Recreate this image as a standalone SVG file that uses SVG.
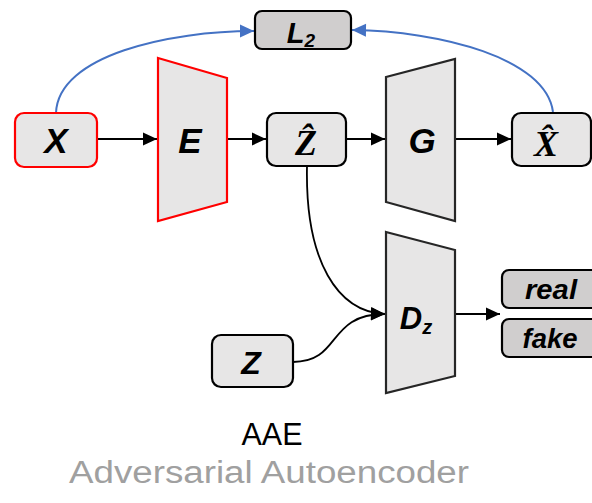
<svg xmlns="http://www.w3.org/2000/svg" width="592" height="503" viewBox="0 0 592 503">
<style>
.box{fill:#e7e6e6;stroke:#000;stroke-width:2.2}
.dbox{fill:#d0cece;stroke:#000;stroke-width:2.2}
.red{fill:#e7e6e6;stroke:#ff0000;stroke-width:2.2}
.trap{fill:#e7e6e6;stroke:#262626;stroke-width:2.2}
.lbl{font-family:"Liberation Sans",Arial,sans-serif;font-weight:bold;font-style:italic;text-anchor:middle;fill:#000}
.mth{font-family:"Liberation Serif","DejaVu Serif",serif;font-weight:bold;font-style:italic;text-anchor:middle;fill:#000}
.ln{fill:none;stroke:#000;stroke-width:1.8}
.bl{fill:none;stroke:#4472c4;stroke-width:2}
.cap{font-family:"Liberation Sans",Arial,sans-serif;font-size:31px;text-anchor:middle}
</style>
<defs>
<marker id="ah" markerUnits="userSpaceOnUse" markerWidth="16" markerHeight="16" viewBox="0 0 16 16" refX="15" refY="8" orient="auto">
<path d="M1,1.5 L15,8 L1,14.5 Z" fill="#000"/>
</marker>
<marker id="ahb" markerUnits="userSpaceOnUse" markerWidth="16" markerHeight="16" viewBox="0 0 16 16" refX="15" refY="8" orient="auto">
<path d="M1,1.5 L15,8 L1,14.5 Z" fill="#4472c4"/>
</marker>
</defs>
<g id="connectors">
<path class="ln" d="M97,139 H157" marker-end="url(#ah)"/>
<path class="ln" d="M227,139 H266" marker-end="url(#ah)"/>
<path class="ln" d="M346,139 H385" marker-end="url(#ah)"/>
<path class="ln" d="M455,139 H511" marker-end="url(#ah)"/>
<path class="ln" d="M455,314 H500" marker-end="url(#ah)"/>
<path class="ln" d="M307,166 C305,262 338,312 385,314" marker-end="url(#ah)"/>
<path class="ln" d="M293,362 C342,362 326,314 385,314" marker-end="url(#ah)"/>
<path class="bl" d="M56,113 C58,55 170,31 254,31" marker-end="url(#ahb)"/>
<path class="bl" d="M553,112 C546,58 440,31 352,30" marker-end="url(#ahb)"/>
</g>
<g id="node-L2">
<rect class="dbox" x="255" y="11" width="96" height="38" rx="7"/>
<text class="lbl" x="301" y="43" font-size="29">L<tspan font-size="19" dy="4">2</tspan></text>
</g>
<g id="node-X">
<rect class="red" x="15" y="113" width="82" height="54" rx="9"/>
<text class="lbl" x="56" y="153" font-size="35">X</text>
</g>
<g id="node-E">
<path class="red" d="M158,58 L227,78 L227,202 L158,221 Z"/>
<text class="lbl" x="190" y="153" font-size="35">E</text>
</g>
<g id="node-Zhat">
<rect class="box" x="267" y="113" width="79" height="53" rx="9"/>
<text class="mth" x="306" y="155" font-size="36">Ẑ</text>
</g>
<g id="node-G">
<path class="trap" d="M386,77 L455,59 L455,221 L386,202 Z"/>
<text class="lbl" x="422" y="153" font-size="35">G</text>
</g>
<g id="node-Xhat">
<rect class="box" x="512" y="113" width="79" height="53" rx="9"/>
<text class="mth" x="546" y="156" font-size="36">X̂</text>
</g>
<g id="node-Dz">
<path class="trap" d="M386,232 L455,250 L455,376 L386,393 Z"/>
<text class="lbl" x="416" y="329" font-size="31">D<tspan font-size="20" dy="5">z</tspan></text>
</g>
<g id="node-Z">
<rect class="box" x="212" y="335" width="81" height="52" rx="9"/>
<text class="lbl" x="251" y="374" font-size="32">Z</text>
</g>
<g id="node-real">
<rect class="dbox" x="502" y="270" width="100" height="38" rx="7"/>
<text class="lbl" x="551" y="299" font-size="27" textLength="52" lengthAdjust="spacingAndGlyphs">real</text>
</g>
<g id="node-fake">
<rect class="dbox" x="502" y="319" width="100" height="38" rx="7"/>
<text class="lbl" x="550" y="348" font-size="27" textLength="55" lengthAdjust="spacingAndGlyphs">fake</text>
</g>
<g id="captions">
<text class="cap" x="272" y="445" fill="#000" textLength="61" lengthAdjust="spacingAndGlyphs">AAE</text>
<text class="cap" x="269" y="483" fill="#a0a0a0" textLength="400" lengthAdjust="spacingAndGlyphs">Adversarial Autoencoder</text>
</g>
</svg>
